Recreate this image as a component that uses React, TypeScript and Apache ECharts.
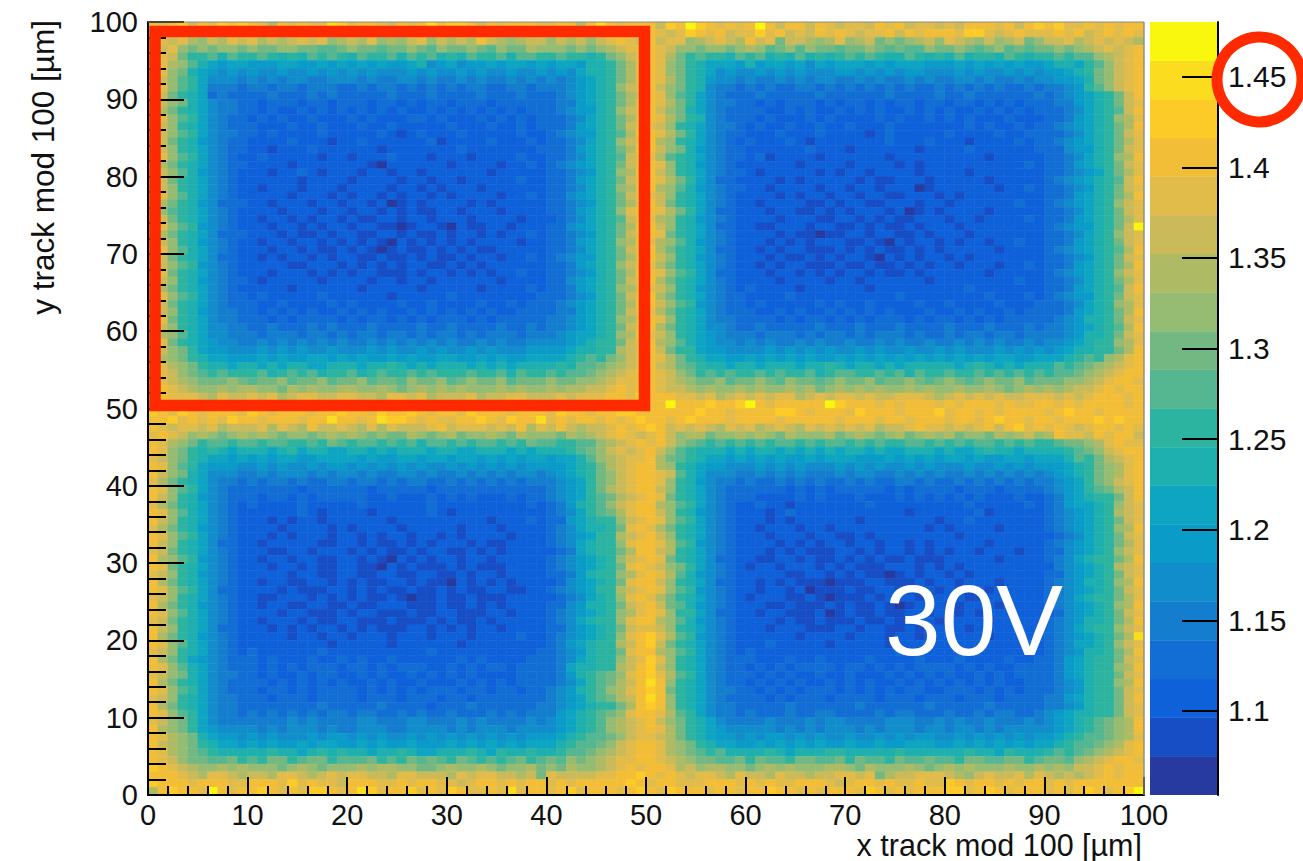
import React, { useEffect, useRef } from "react";
import * as echarts from "echarts";

// Colour level of each colour-bar band, bottom (1.054) to top (1.480).
const levelColors = [
  "#263A9F", "#174EC5", "#0F61DA", "#126ED4", "#147DCE", "#128DCB", "#0A9BC9", "#0EA5C2", "#1EAFAF", "#2DB4A0",
  "#54B791", "#73B882", "#96BC73", "#AFBB64", "#CBBA5A", "#E1BC4B", "#F3BE37", "#FDCB27", "#FCDC1E", "#F9F70E",
];
const colorbarTicks = [1.1, 1.15, 1.2, 1.25, 1.3, 1.35, 1.4, 1.45];
const colorbarMin = 1.0536;
const colorbarMax = 1.4802;
const xRange = [0, 100];
const yRange = [0, 100];

// One string per y bin, y = 99 first; one character per x bin (0-9, a-j = colour levels 0-19).
const cellRows = [
  "gfghegfhgh gfdgfgffih fggfegfgig hhgegfgggf fggdgigfgg gehgjhgfgf gjgeggegfe ffegfgeffe fegggfgegh ghffgfgfgg",
  "fgfgfgegfh fgfgegfgfe gfgefgfhgf fgffggfgef gfefgfgffg gfefhgfgef fhfgefegfg feffgegfgg gfhhfefgff fgfgefgfgf",
  "gfefdcedfe fdedefefcd edfcdcefce dedgedcdee cedecefgfe geffcdefed gefbeedcdf cdebcbcdec fedcecdebc eefdefefed",
  "gefcbcbccb cbbccbbaab cbbabbcbac bbcbacbbdc ccbcbcdefg gfeccbccbc dcabcacbba bbcbabaacb bcbabcabab bcbcdefefg",
  "gfeb99a8a9 9a9898a9a9 8a99a8a9a8 98a99a8aa9 9a9989bcef gfdb9a998a 9a898a8989 a9a988a989 8a8998a989 9a9aacdefg",
  "gfdca87677 6667766767 6767667856 7566767767 6776889bdf gfcb987776 8677675767 7767677766 6767676766 78879acefg",
  "gfcb876565 6556556565 6565556565 5656556556 5657889bdf gfcb987565 5656565556 6565656655 5656556565 66789bcefg",
  "feca975554 5454554455 5454455454 4545445454 5456789bdf gfdb986554 5445454554 4545445454 4554544545 56678bcefg",
  "gfca974443 4434434443 3434434343 4344334434 4456789cef gecb985443 4343344343 4343434334 3434343343 44569acefg",
  "feb9873433 3343334343 3333433343 3334333433 3456789bde gfca975433 3433333433 3333433334 3343333334 3456789beg",
  "gecb875443 3233323323 3323323233 2333233333 3446789bdf gfdb975443 3232333232 3323233233 2332323233 3446789bef",
  "fdb9875443 3232232323 2323232232 3232323233 3456689cef gecb875433 3322323223 2323223232 3223232323 3345789aeg",
  "gfca975433 2323223222 3232223323 2223232323 3345789bdf gfdb985433 3232223232 2223232232 3232223222 3346789cdf",
  "gec9875433 3222322322 2322322222 3222322323 3346789bef fec9875443 2322322322 3222322222 2232322323 3456789bdg",
  "feca975443 3232222322 2223212322 2322222322 3456689adg gfdb975433 2223222322 2212322222 3222232233 3345789bef",
  "geb9865433 2222322212 2322222231 2222322232 3345789cef gdc9875432 3222321222 2222322232 2212222323 3456789bdf",
  "fec9875433 2212223222 2221222222 2322222223 3346789bdg gecb865433 2222223222 1222222122 2232222223 3356689bef",
  "gfca975432 2322222122 1222322212 2212222322 3345789aef fda9875433 2312222122 2222122222 2222122222 3345789cdg",
  "gdb9875433 2222122222 2210222222 1222212232 3456789bef gfc9865432 2222212222 1222212122 2222222232 3346789bef",
  "feca865432 2212232122 2122122122 2222122222 3345689cdg gec9875433 2122222121 2212222122 2212222222 3345679bdf",
  "geb9875432 2222212222 1222212212 2122222322 3346789bef gfdb975332 2221212222 2121122212 2222122222 3456789aeg",
  "fec9875432 2122212221 2222122121 2221222222 3345789cdf gdca865433 2212222122 1221222012 2222212232 3345689bef",
  "gfca875432 2222122212 1221212212 1222212232 3356789bef fec9875432 2221212212 2122112221 2122222222 3346789bdg",
  "gdb9865333 2212221221 2212012122 2212122222 3345689bdf geb9875432 2122221121 2211222122 1222222322 3456789cef",
  "fca9875432 2221222122 1221212112 2122212222 3346789cfg gfdb975332 2212211212 1222120121 2222122222 3345789bef",
  "geb9875432 2122121221 2112212212 2212222122 2345789aef fdc9865432 2221222112 2121211222 1221222232 3346789bdf",
  "gfca965432 2212212122 1221101221 0211221222 3356789bdg gec9875332 2112221221 1212112122 2122222222 3456689bej",
  "fdb9875333 2221211212 2112212112 1221212232 3345689bef gfb9875432 2221211011 2212211212 2212222222 3345789cef",
  "gec9865432 2122122121 2121021212 1212222122 3346789cdg fdca865432 2212121222 1121021221 2122122322 3346789bef",
  "gfca875432 2212212112 1210121121 2121122222 3345789bef gdb9875332 2121221112 1212112121 2222212222 3456789adg",
  "feb9875332 2121221212 2112112121 1212212232 3456689bdf gec9865432 2212112121 2210212122 1212222222 3345689bef",
  "geca965432 2222112221 2121212211 2121222222 3346789cef fdb9875432 2121221112 1121121212 2122212232 3346789bdg",
  "gfb9875432 2212221212 1221112122 1212122322 3345689bdg gfca975332 2212212121 2212112122 2222122222 3456789cef",
  "fec9865433 2122222122 2212212212 2222212222 3356789bef gdb9875432 2221222212 2122222212 2222222322 3345789bdf",
  "gdb9875432 2222122222 2122222122 2221222232 3346789cdf fec9865432 3222212222 2212222222 2232222222 3346789aeg",
  "gfca975433 2322222322 2222122222 3222222223 3345689bef gdb9875433 2222322222 2222232222 2222322232 3456689bef",
  "feb9875433 3223222232 3222232232 2223223233 3456789bdg geca965433 2322222323 2232222322 3222232223 3345789cdf",
  "gec9865443 3232323223 2323223232 3232322333 3446789bef fdb9875433 3223232232 3232322232 2323223233 3346789bdg",
  "gfb9875443 3323233332 3233232323 3323233333 4456789cdf gfc9875443 3332323323 2323332323 3232323333 3456889bef",
  "fec9875544 3343334343 3343333433 4333343343 4456789bef gdb9875543 3433333433 3433343333 4333433343 4456789adg",
  "gdca875544 4344434434 3443443434 4343444344 4567789cdg fec9876544 4344434344 3434443433 4344344344 4456889bef",
  "gfb9876554 4545454545 4454545454 5445454455 5567899bef gdca876554 5454454544 5445454454 4545454454 5567899cdf",
  "fecb976655 5656565565 5565655656 5565655566 6678899def geb9976655 5565656565 5656556556 5655565656 5678899bdg",
  "gdcb987766 6767667767 6766767667 7667676677 7789a9bcef gfdb987766 7676767667 6767676767 6767677667 7789a9cdfg",
  "gfdcb98878 8787887788 8788987878 8878787888 898aabcdef gedba98878 8788878898 7887878888 8789878788 8a9abcdefg",
  "gfecba9a99 9a89a9a899 a89a99a9a9 99a99a8a99 a9aabcdefg gfecb9a9a9 9a9a99a89a a99a9a8a99 a99a9a9a9a 9aabcdefgg",
  "gfedcbbbcb abbcabbcab bcabbacbbc abcbbcabbb cbbccdeffg gfedcbbcab bcbacbbabc bbcabbcbab cbabcbbcab bbccdefggf",
  "ggfedccdcd dccbdcdccd dccdcbcdcd cdcccdcdcc dcddeefgfg gfeedcdccd cdccdcdbcd cdcdccdcdc cdccdcbcdc dcdeefgfgg",
  "ggfffedfee fefdeffeef feedffefde eefdeeffee efefffggfh gggffefdef efeffdefef fefeefffed efefefeeff fefefgggfg",
  "gfgggfgfgg gfhgfgfgfg ggfggfgfgg gfgfggfggf ggfgggfggi ggjggghggh jgfgggggjh gggfgfgggf gfgggfgffg gfgfggggfg",
  "hgfhgfgggf hgfgggfggh ggfhgghgfg gfhgggfggg fhggfgghhg ggggghggfg ggghhgfggg fhgggfgggh fggfgfgggg fghggfgggg",
  "gghfgfgfhg gfgggfggig gfgihhgfgf fgghgfhggi fgfggfgfgh ggfghgggfg gggfgggggf gggfggfggg fggfghggfg gfggghghgg",
  "gfeffefdee efdfedgeef edfdfeeefg efffefegdf egedeefgfg hgefefedfe fdefedfefe fefdeefgff efefgeghfg fgfefggfgf",
  "fgfecdcbcd cdcbccbcdc dcbcbbdcbc dbccdcbdcc cbdcdefgfe fgecddbccd cdcbdcccdb cdcbcdbcdc dbccbdcdec dgffegfgge",
  "gfdcb9aa9a a9aa99a9ba 9aa9a9a8aa 9a9aa9a9ba a99aacdefg fgecba9a9a 9a9aa9a9aa 9a9a99aa9a 9a9aa9a9a9 9abbcdfgff",
  "gfcb989878 8878978877 8878788878 8778887878 889abcefef geca988878 7887878787 8878778887 8778988788 889abcefgg",
  "fecb987767 6767766777 7676677677 6776767677 6778acdeff gdba987767 6767667677 7666767676 7767667767 778a9bdefg",
  "gfca976665 5656556566 5656565655 6565656566 66789bdefg gdc9876655 5656565556 5656556565 5565565656 66789bcdfg",
  "gecb875554 4545554545 5454455454 4545454554 56789bcefg gfea875554 4545454445 4554454545 4454545454 56789bcdfg",
  "fdb9875443 4344343344 3443434433 4343434344 45679bcefg gfc9865443 4334343433 4343344343 3434343434 45679bcefg",
  "gfca975433 3333323333 3323333323 3333333333 45679bdefg gec9875433 3333232323 3333232333 3233323333 45679abdeg",
  "gec9865433 3233232333 3322322232 3232223233 45679abdef gfb9875433 3222232322 2322232323 2323222322 3467899beg",
  "fdb9875432 3222232222 2322222232 2222222232 34689acefg gdca975432 2322122222 2232222222 2232222232 3467789cef",
  "gfca875432 2222232122 2212222232 1222222222 34579abdfg gec9865432 2212322222 2222221222 2223122222 3456789def",
  "gec9875432 2212122122 2222122222 2222122232 3367899cef gfca975432 2212122222 2122222221 2232222222 3456789bef",
  "fdb9865432 2221222212 1222212222 2122212222 3457889bfg fdb9875432 2122212212 2222222212 1222212222 3456789cdg",
  "gfca975432 2212122212 2121221221 2122221222 3456799def gec9875432 2212221221 1212222222 2122222222 2345789bef",
  "gec9875332 2122222112 2121121212 2212112222 3457899cfg gfda965432 2221212122 1221221212 2222122222 3456789bdf",
  "feb9875432 2211221222 1212112122 1121212222 2347899bdg ged9875432 2212121112 2121221212 1221222122 3356789cef",
  "gdca965432 2122122112 2121021212 2122122222 3456789cef gfb9875332 2112212112 1212112111 2222212222 3457899bdg",
  "gfb9875432 2212212112 2110212111 2121112222 3456789bfg fecb975432 1221222121 2111222121 2122222222 2456789def",
  "fec9865432 2222122112 2112211221 1212212222 3346899cdf gfda865432 2222112212 1211012122 1212222222 3356789bef",
  "gdb9875432 2122112212 1211221211 0212121222 2356789bfg gec9875332 2121211101 1122111212 2122212222 3456889cdg",
  "gfca975332 2221211122 1212112112 1211221122 3456799def gfca965432 2122120111 2112211121 2112122222 3456789bef",
  "fec9875432 2112221212 1211210112 1121112222 2345789cfg fdb9875432 1222112101 1121222112 2211222222 3457899bdf",
  "gdb9865432 2122112211 2112221112 1121212222 3356889bef geba865432 2211211121 2112101222 1122212222 3456789cdg",
  "gfca875432 2221221112 1221112112 2111221222 3456789cdf gfc9975332 2122111201 2112112212 2121222222 2356789bef",
  "feb9875432 2122212112 2111211121 2112122222 3457899cfg gdca865432 2221211211 1211211221 2222122222 3456889bdg",
  "gec9875332 2212121221 2121112212 1212212222 3356789bef fec9875432 2212221112 2122112122 2212222322 3457899cef",
  "gdb9865432 2222122122 1222122212 2212222322 3456789cfg hfda965432 2222212222 1222122122 2222122222 3456789bdi",
  "gfca875432 2222222212 2222122222 2122222222 3467899deg heb9875432 2232222212 2222122222 2222222232 3457789cef",
  "fec9875432 3222222322 2222222232 2222222223 3456899bfg gdca975432 3222222222 2222232222 2222222222 3456889bdg",
  "gdb9765433 3232223223 2322322222 2323222233 3457899cef hfc9875433 3222322322 2232222322 2322223223 3467899bef",
  "gfca875433 3232323332 3323233322 3232332333 3478899deg hec9875433 2323233332 3323232333 3232322333 3467899cdg",
  "fecb875443 3232232332 2323223232 3232222333 34689abcfg hfda975433 3232322322 3222323232 3223232333 3467899bef",
  "gdb9875433 3323232323 2232322322 2323232333 34579abdeg igc9875433 2323232232 3232232323 2323232233 3456899cdg",
  "gfca975433 3233232333 3232323233 3233233233 45689acdfg hgb9875443 3232323332 3232323322 3332323233 3456899bef",
  "fec9875443 3323332333 3233323332 3323333333 45679abdeg igc9875433 3323233323 3332333233 3233323333 4467899beg",
  "gdb9875443 3333333433 3334333323 3343333334 4567899bdg hgc9875443 3333433333 3433333343 3333433333 4456899bef",
  "gfca975443 4343434344 3443343433 4333434344 46789abcfg gfda975443 4333433443 3334344333 4334344334 5678899bef",
  "fecb975444 4444545444 4554445544 4545444454 56789acdef gecb987544 4454445455 4444555445 4544544454 56789abcdg",
  "gdcb976555 5454555454 4555445555 4545554555 56789acdef gfdb987655 5554545455 5454555455 4554545555 56789abcdg",
  "gfdcb87665 6565556566 5656556565 6565656566 6789aabcef fedb987665 6566565655 6556565665 5656565656 6789aabcdf",
  "gedcb98776 7676676776 6767667666 7676767677 789aabcefg gfdcb98776 6767676766 7667667776 6767676767 789aabcdfg",
  "gfdcba9888 8898878989 8878898778 8898798898 89aabcdefg gfdcba9a88 8898788899 8888898888 8898879888 9a9abcdefg",
  "gfecbbaab9 a9bb9abb9a aab9a9baba 9ba9a9ab9a bacbcdeffg gfedcbbaab 9baa9bbaab 9baa9baaba a9bbaabb9a bbacdefggf",
  "hgfedccdcd cccbcdcbcc cdcddccbbc dccdcbccdb cbdccdefgf ggfdecddcc bcdcdcccdd cbdcccdcbc dcdcccdccd cdceefgfgg",
  "gggfedffed eedffedefe ffeedffeee dfeffeedeb feeeeffggh gfgfeffedf eedfeedeef fefbdeefff edcefeefdf ededefgfgg",
  "hgggfgggff gggfhfgffe gggffgfggf fefggfgfgg fgfggggghg fggfffgggf gfgffgggfe fggfgffgff hgfggfgfgg fgfggggggg",
  "dghggfjgfg ghgfgfhhgf gihfgghfgf hgffgfifgg fghfgggfgh gfhgggfggf gghggfgfgg gfhgfgfggg hhfghgfggg fgfghgfghj",
];

const levelChars = "0123456789abcdefghij";
const cells = cellRows.flatMap((row, rowIndex) =>
  row.replace(/ /g, "").split("").map((ch, x) => [x, 99 - rowIndex, levelChars.indexOf(ch)])
);
const bands = levelColors.map((_, i) => [i]);

const FONT = "'Liberation Sans', Arial, sans-serif";
const BLACK = "#000000";
const RED = "#FF2A00";

export default function App() {
  const ref = useRef<HTMLDivElement>(null);
  useEffect(() => {
    const chart = echarts.init(ref.current!, null, { renderer: "svg" });
    const bandHeight = (colorbarMax - colorbarMin) / levelColors.length;
    chart.setOption({
      animation: false,
      backgroundColor: "#ffffff",
      grid: [
        { left: 148, top: 22, width: 996, height: 773, show: false },
        { left: 1150, top: 22, width: 68, height: 773, show: false },
      ],
      xAxis: [
        {
          type: "value", gridIndex: 0, min: xRange[0], max: xRange[1], interval: 10, z: 10,
          axisLine: { show: true, onZero: false, lineStyle: { color: BLACK, width: 2 } },
          axisTick: { show: true, inside: true, length: 18, lineStyle: { color: BLACK, width: 2 } },
          minorTick: { show: true, splitNumber: 5, length: 9, lineStyle: { color: BLACK, width: 2 } },
          splitLine: { show: false },
          axisLabel: { color: "#111111", fontFamily: FONT, fontSize: 29, margin: 5 },
        },
        { type: "value", gridIndex: 1, min: 0, max: 1, show: false },
      ],
      yAxis: [
        {
          type: "value", gridIndex: 0, min: yRange[0], max: yRange[1], interval: 10, z: 10,
          axisLine: { show: true, onZero: false, lineStyle: { color: BLACK, width: 2 } },
          axisTick: { show: true, inside: true, length: 36, lineStyle: { color: BLACK, width: 2 } },
          minorTick: { show: true, splitNumber: 5, length: 18, lineStyle: { color: BLACK, width: 2 } },
          splitLine: { show: false },
          axisLabel: { color: "#111111", fontFamily: FONT, fontSize: 29, margin: 10 },
        },
        {
          type: "value", gridIndex: 1, position: "right", min: colorbarMin, max: colorbarMax, z: 10,
          axisLine: { show: true, onZero: false, lineStyle: { color: BLACK, width: 2 } },
          axisTick: { show: true, inside: true, length: 36, customValues: colorbarTicks, lineStyle: { color: BLACK, width: 2 } },
          splitLine: { show: false },
          axisLabel: {
            color: "#111111", fontFamily: FONT, fontSize: 30, margin: 10, customValues: colorbarTicks,
            formatter: (v: number) => String(Number(v.toFixed(2))),
          },
        },
      ],
      series: [
        {
          type: "custom", xAxisIndex: 0, yAxisIndex: 0, data: cells, silent: true, z: 1, clip: true, progressive: 0,
          encode: { x: 0, y: 1 },
          renderItem: (_: unknown, api: any) => {
            const x = api.value(0), y = api.value(1);
            const a = api.coord([x, y + 1]);
            const b = api.coord([x + 1, y]);
            const fill = levelColors[api.value(2)];
            return {
              type: "rect",
              shape: { x: a[0], y: a[1], width: b[0] - a[0], height: b[1] - a[1] },
              style: { fill, stroke: fill, lineWidth: 0.6 },
            };
          },
        },
        {
          type: "custom", xAxisIndex: 1, yAxisIndex: 1, data: bands, silent: true, z: 1, clip: true,
          encode: { y: 0 },
          renderItem: (_: unknown, api: any) => {
            const i = api.value(0);
            const a = api.coord([0, colorbarMin + (i + 1) * bandHeight]);
            const b = api.coord([1, colorbarMin + i * bandHeight]);
            const fill = levelColors[i];
            return {
              type: "rect",
              shape: { x: a[0], y: a[1], width: b[0] - a[0], height: b[1] - a[1] },
              style: { fill, stroke: fill, lineWidth: 0.4 },
            };
          },
        },
      ],
      graphic: [
        { type: "line", z: 50, shape: { x1: 148, y1: 22, x2: 1144, y2: 22 }, style: { stroke: "#8C8C80", lineWidth: 1 } },
        { type: "line", z: 50, shape: { x1: 1144, y1: 22, x2: 1144, y2: 795 }, style: { stroke: "#8C8C80", lineWidth: 1.4 } },
        { type: "rect", z: 60, shape: { x: 155, y: 31.5, width: 489.5, height: 374 }, style: { fill: "transparent", stroke: RED, lineWidth: 11.5 } },
        { type: "circle", z: 60, shape: { cx: 1259.5, cy: 79.5, r: 42.5 }, style: { fill: "transparent", stroke: RED, lineWidth: 11 } },
        { type: "text", z: 60, x: 1063, y: 620, style: { text: "30V", fill: "#ffffff", font: `100px ${FONT}`, textAlign: "right", textVerticalAlign: "middle" } },
        { type: "text", z: 60, x: 1142, y: 845, style: { text: "x track mod 100 [µm]", fill: "#111111", font: `30.5px ${FONT}`, textAlign: "right", textVerticalAlign: "middle" } },
        { type: "text", z: 60, x: 43, y: 20, rotation: Math.PI / 2, style: { text: "y track mod 100 [µm]", fill: "#111111", font: `31.5px ${FONT}`, textAlign: "right", textVerticalAlign: "middle" } },
      ],
    });
    return () => chart.dispose();
  }, []);
  return <div ref={ref} style={{ position: "fixed", left: 0, top: 0, width: 1303, height: 861 }} />;
}
